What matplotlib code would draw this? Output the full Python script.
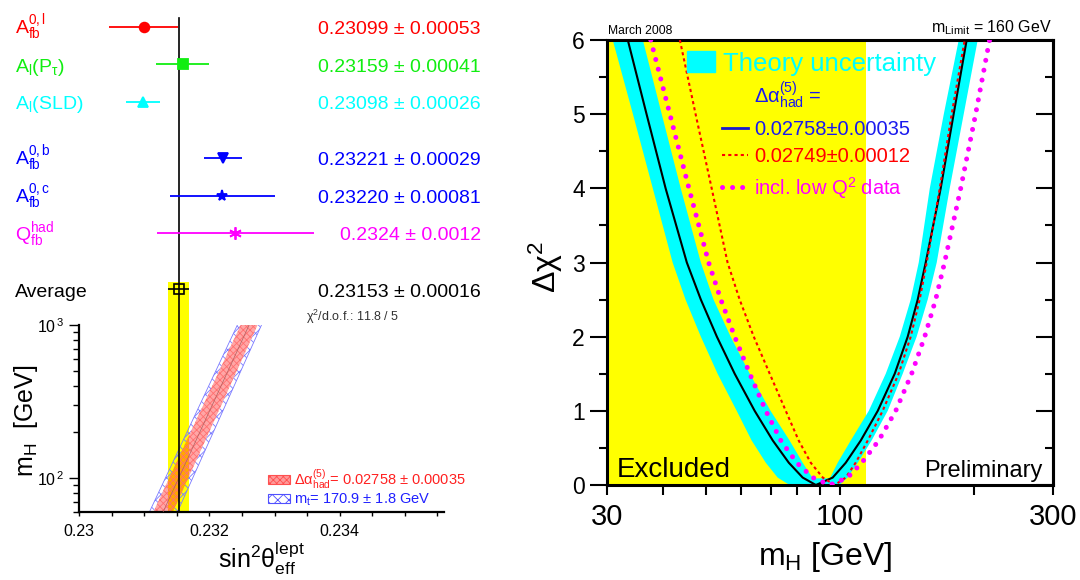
import matplotlib
matplotlib.use("Agg")
import matplotlib.pyplot as plt
from matplotlib import transforms
from matplotlib.patches import Patch
from matplotlib.lines import Line2D
from matplotlib.ticker import NullFormatter

plt.rcParams['font.family'] = ['Liberation Sans', 'DejaVu Sans']
plt.rcParams['mathtext.fontset'] = 'custom'
plt.rcParams['mathtext.rm'] = 'Liberation Sans'
plt.rcParams['mathtext.it'] = 'Liberation Sans:italic'
plt.rcParams['mathtext.default'] = 'regular'
plt.rcParams['hatch.linewidth'] = 0.6

# mesures de sin2theta_eff
meas_labels = [r"$A_{fb}^{0,l}$", r"$A_l(P_\tau)$", r"$A_l$(SLD)",
               r"$A_{fb}^{0,b}$", r"$A_{fb}^{0,c}$", r"$Q_{fb}^{had}$"]
meas_values = [0.23099, 0.23159, 0.23098, 0.23221, 0.23220, 0.2324]
meas_errors = [0.00053, 0.00041, 0.00026, 0.00029, 0.00081, 0.0012]
meas_texts = ["0.23099 ± 0.00053", "0.23159 ± 0.00041", "0.23098 ± 0.00026",
              "0.23221 ± 0.00029", "0.23220 ± 0.00081", "0.2324 ± 0.0012"]
meas_rows = [0, 1, 2, 3.5, 4.5, 5.5]
meas_colors = ['#ff0000', '#11ee11', '#00ffff', '#0000ff', '#0000ff', '#ff00ff']
meas_markers = ['o', 's', '^', 'v', '*', (6, 2, 0)]
meas_sizes = [7, 7, 7, 7, 8, 9]

avg_value = 0.23153
avg_error = 0.00016
avg_row = 7

# bande SM dans le plan (sin2theta, mH)
band_mh = [60, 1000]
band_red_lo = [0.23114, 0.23248]
band_red_hi = [0.23144, 0.23274]
band_blue_lo = [0.23108, 0.23243]
band_blue_hi = [0.23151, 0.23280]
band_mid = [0.23129, 0.23261]

# courbes delta chi2 (panneau de droite)
chi2_levels = [6.0, 5.0, 4.0, 3.0, 2.5, 2.0, 1.5, 1.0, 0.6, 0.3, 0.1, 0.0,
               0.1, 0.3, 0.6, 1.0, 1.5, 2.0, 2.5, 3.0, 4.0, 5.0, 6.0]
mh_fit = [33.4, 36.8, 40.6, 45.3, 48.7, 52.9, 58.0, 64.3, 70.6, 76.7, 82.4, 88.2,
          96.2, 102.9, 111.2, 121.4, 132.5, 141.7, 149.2, 155.5, 168.0, 179.6, 192.1]
mh_red = [43.7, 47.4, 51.5, 55.9, 59.5, 64.0, 69.5, 75.5, 80.7, 85.9, 91.4, 97.2,
          102.9, 108.3, 115.3, 124.5, 135.2, 143.9, 150.7, 156.3, 167.2, 177.8, 190.2]
mh_mag = [37.6, 41.5, 45.8, 50.7, 54.0, 58.0, 62.7, 68.1, 73.6, 79.9, 86.8, 94.8,
          103.9, 111.8, 122.0, 133.2, 144.6, 154.7, 163.7, 171.4, 186.3, 201.2, 216.2]

# bande theorique : bord exterieur puis bord interieur
cyan_outer_mh = [30.9, 34.3, 38.0, 42.1, 45.0, 48.7, 53.1, 58.6, 63.3, 68.1, 72.4, 77.0,
                 99.6, 103.9, 109.5, 117.6, 127.8, 138.1, 148.4, 157.1, 164.6, 176.0,
                 189.2, 203.4]
cyan_outer_chi2 = [6.0, 5.0, 4.0, 3.0, 2.5, 2.0, 1.5, 1.0, 0.6, 0.3, 0.1, 0.0,
                   0.0, 0.1, 0.3, 0.6, 1.0, 1.5, 2.0, 2.5, 3.0, 4.0, 5.0, 6.0]
cyan_inner_mh = [184.4, 170.7, 158.8, 150.0, 143.9, 136.0, 126.5, 115.9, 105.6, 98.7,
                 94.8, 86.8, 82.4, 77.0, 69.8, 62.7, 56.8, 52.0, 48.7, 43.9, 39.8, 36.1]
cyan_inner_chi2 = [6.0, 5.0, 4.0, 3.0, 2.5, 2.0, 1.5, 1.0, 0.6, 0.3, 0.09,
                   0.09, 0.3, 0.6, 1.0, 1.5, 2.0, 2.5, 3.0, 4.0, 5.0, 6.0]

mh_excluded = 114.4

W, H = 1080, 580
fig = plt.figure(figsize=(W / 100, H / 100), dpi=100)


def box(x0, y0, x1, y1):
    return [x0 / W, 1 - y1 / H, (x1 - x0) / W, (y1 - y0) / H]


YELLOW = '#ffff00'

# ---- panneau gauche, haut
ax_top = fig.add_axes(box(79, 0, 444, 325))
ax_bot = fig.add_axes(box(79, 325, 444, 512), sharex=ax_top)
ax_top.set_xlim(0.23, 0.2356)
ax_top.set_ylim(7.95, -0.72)
ax_top.axis('off')

trans = transforms.blended_transform_factory(fig.transFigure, ax_top.transData)
for lab, v, e, txt, r, c, m, ms in zip(meas_labels, meas_values, meas_errors, meas_texts,
                                         meas_rows, meas_colors, meas_markers, meas_sizes):
    ax_top.errorbar(v, r, xerr=e, fmt='none', ecolor=c, elinewidth=1.3, capsize=0, zorder=3)
    ax_top.plot(v, r, marker=m, color=c, ms=ms, mew=1.3, ls='none', zorder=4)
    ax_top.text(15 / W, r + 0.19, lab, transform=trans, color=c, fontsize=14, va='baseline')
    ax_top.text(481 / W, r + 0.19, txt, transform=trans, color=c, fontsize=14,
                va='baseline', ha='right')

ax_top.fill_betweenx([6.8, 7.95], avg_value - avg_error, avg_value + avg_error,
                     color=YELLOW, lw=0, zorder=0)
ax_top.plot([avg_value, avg_value], [-0.24, 7.95], color='k', lw=1.2, zorder=2)
ax_top.errorbar(avg_value, avg_row, xerr=avg_error, fmt='s', mfc='none', mec='k',
                ecolor='k', ms=7, mew=1.2, elinewidth=1.2, capsize=0, zorder=5)
ax_top.text(15 / W, avg_row + 0.19, "Average", transform=trans, fontsize=14, va='baseline')
ax_top.text(481 / W, avg_row + 0.19, "0.23153 ± 0.00016", transform=trans, fontsize=14,
            va='baseline', ha='right')
ax_top.text(306 / W, 7.73, r"$\chi^2$/d.o.f.: 11.8 / 5", transform=trans, fontsize=9,
            va='center', color='#333333')

# ---- panneau gauche, bas
ax_bot.set_yscale('log')
ax_bot.set_ylim(60, 1000)
ax_bot.axvspan(avg_value - avg_error, avg_value + avg_error, color=YELLOW, lw=0, zorder=0)
ax_bot.fill_betweenx(band_mh, band_blue_lo, band_red_lo, facecolor='none',
                     edgecolor='#7a7aff', hatch='xxx', lw=0, zorder=1)
ax_bot.fill_betweenx(band_mh, band_red_hi, band_blue_hi, facecolor='none',
                     edgecolor='#7a7aff', hatch='xxx', lw=0, zorder=1)
ax_bot.plot(band_blue_lo, band_mh, color='#7a7aff', lw=0.6, zorder=1)
ax_bot.plot(band_blue_hi, band_mh, color='#7a7aff', lw=0.6, zorder=1)
ax_bot.fill_betweenx(band_mh, band_red_lo, band_red_hi, facecolor=(1, 0, 0, 0.35),
                     edgecolor='#ff7070', hatch='xxxxx', lw=0, zorder=2)
ax_bot.plot(band_mid, band_mh, color='#b06060', lw=0.5, zorder=3)
ax_bot.axvline(avg_value, color='k', lw=1.2, zorder=4)

ax_bot.set_xticks([0.23, 0.232, 0.234])
ax_bot.set_xticklabels(["0.23", "0.232", "0.234"])
ax_bot.set_xticks([0.2305 + 0.0005 * i for i in range(11)], minor=True)
ax_bot.set_yticks([100, 1000])
ax_bot.set_yticklabels([r"$10^{\,2}$", r"$10^{\,3}$"])
ax_bot.yaxis.set_minor_formatter(NullFormatter())
ax_bot.tick_params(axis='x', which='both', direction='out', length=3, width=1,
                   labelsize=11.5, pad=6)
ax_bot.tick_params(axis='y', which='major', direction='out', length=7, width=1, labelsize=11.5)
ax_bot.tick_params(axis='y', which='minor', direction='out', length=4, width=1)
for s in ['top', 'right']:
    ax_bot.spines[s].set_visible(False)
for s in ['left', 'bottom']:
    ax_bot.spines[s].set_linewidth(1.6)
ax_bot.set_ylabel(r"$m_H$  [GeV]", fontsize=18)
ax_bot.yaxis.set_label_coords(-0.107, 0.49)
ax_bot.set_xlabel(r"sin$^2\theta_{eff}^{lept}$", fontsize=18)
ax_bot.xaxis.set_label_coords(0.50, -0.15)

leg_l = ax_bot.legend(
    handles=[Patch(facecolor=(1, 0.6, 0.6), edgecolor='#ff5050', hatch='xxxxx', lw=0.8),
             Patch(facecolor='white', edgecolor='#5050ff', hatch='xxx', lw=0.8)],
    labels=[r"$\Delta\alpha_{had}^{(5)}$= 0.02758 ± 0.00035", r"$m_t$= 170.9 ± 1.8 GeV"],
    labelcolor=['#ff2020', '#2020ff'], loc='upper left',
    bbox_to_anchor=(268 / W, 1 - 467 / H), bbox_transform=fig.transFigure,
    frameon=False, fontsize=10.5, borderpad=0, borderaxespad=0, handlelength=1.5,
    handleheight=0.6, handletextpad=0.3, labelspacing=0.05)

# ---- panneau droit
ax_r = fig.add_axes(box(607, 40, 1053, 485))
ax_r.set_xscale('log')
ax_r.set_xlim(30, 300)
ax_r.set_ylim(0, 6)
ax_r.axvspan(30, mh_excluded, color=YELLOW, lw=0, zorder=0)
ax_r.fill(cyan_outer_mh + cyan_inner_mh, cyan_outer_chi2 + cyan_inner_chi2,
          color='#00ffff', lw=0, zorder=1)
ax_r.plot(mh_fit, chi2_levels, color='k', lw=1.5, zorder=3)
ax_r.plot(mh_red, chi2_levels, color='#ff0000', lw=1.5, ls=(0, (1.5, 1.5)), zorder=3)
ax_r.plot(mh_mag, chi2_levels, color='#ff00ff', lw=3.6, ls=(0, (0.01, 2.0)),
          dash_capstyle='round', zorder=4)

ax_r.set_xticks([30, 100, 300])
ax_r.set_xticklabels(["30", "100", "300"])
ax_r.set_xticks([40, 50, 60, 70, 80, 90, 200], minor=True)
ax_r.xaxis.set_minor_formatter(NullFormatter())
ax_r.set_yticks(range(7))
ax_r.set_yticks([0.5 + i for i in range(6)], minor=True)
ax_r.tick_params(axis='x', which='both', direction='out', length=7, width=1.5,
                 labelsize=21, pad=6)
ax_r.tick_params(axis='y', which='major', direction='out', length=12, width=1.5,
                 labelsize=16.5, pad=4)
ax_r.tick_params(axis='y', which='minor', direction='out', length=6, width=1.5)
for s in ax_r.spines.values():
    s.set_linewidth(2.2)

sec = ax_r.secondary_yaxis('right')
sec.set_yticks(range(7))
sec.set_yticks([0.5 + i for i in range(6)], minor=True)
sec.tick_params(which='major', direction='in', length=12, width=1.5, labelright=False)
sec.tick_params(which='minor', direction='in', length=6, width=1.5)
sec.spines['right'].set_linewidth(2.2)

ax_r.set_ylabel(r"$\Delta\chi^2$", fontsize=23)
ax_r.yaxis.set_label_coords(-0.095, 0.49)
ax_r.set_xlabel(r"$m_H$ [GeV]", fontsize=23)
ax_r.xaxis.set_label_coords(0.49, -0.124)

leg1 = ax_r.legend(handles=[Patch(color='#00ffff')], labels=["Theory uncertainty"],
                   labelcolor='#00ffff', loc='upper left',
                   bbox_to_anchor=(687 / W, 1 - 51 / H), bbox_transform=fig.transFigure,
                   frameon=False, fontsize=18.5, borderpad=0, borderaxespad=0,
                   handlelength=1.1, handleheight=0.9, handletextpad=0.3)
ax_r.add_artist(leg1)
leg2 = ax_r.legend(
    handles=[Line2D([], [], ls='none'),
             Line2D([], [], color='#1a1acc', lw=2),
             Line2D([], [], color='#ff0000', lw=1.5, ls=(0, (1.5, 1.5))),
             Line2D([], [], color='#ff00ff', lw=3.6, ls=(0, (0.01, 2.0)),
                    dash_capstyle='round')],
    labels=[r"$\Delta\alpha_{had}^{(5)}$ =", "0.02758±0.00035", "0.02749±0.00012",
            r"incl. low Q$^2$ data"],
    labelcolor=['#1a1aee', '#1a1aee', '#ff0000', '#ff00ff'], loc='upper left',
    bbox_to_anchor=(722 / W, 1 - 80 / H), bbox_transform=fig.transFigure,
    frameon=False, fontsize=14.5, borderpad=0, borderaxespad=0, handlelength=1.3,
    handletextpad=0.3, labelspacing=0.42)

fig.text(608 / W, 1 - 34 / H, "March 2008", fontsize=8.7, va='baseline')
fig.text(1052 / W, 1 - 32 / H, r"m$_{Limit}$ = 160 GeV", fontsize=11.5, va='baseline', ha='right')
fig.text(617 / W, 1 - 477 / H, "Excluded", fontsize=20, va='baseline')
fig.text(1043 / W, 1 - 477 / H, "Preliminary", fontsize=17, va='baseline', ha='right')

fig.savefig("out.png", dpi=100)
